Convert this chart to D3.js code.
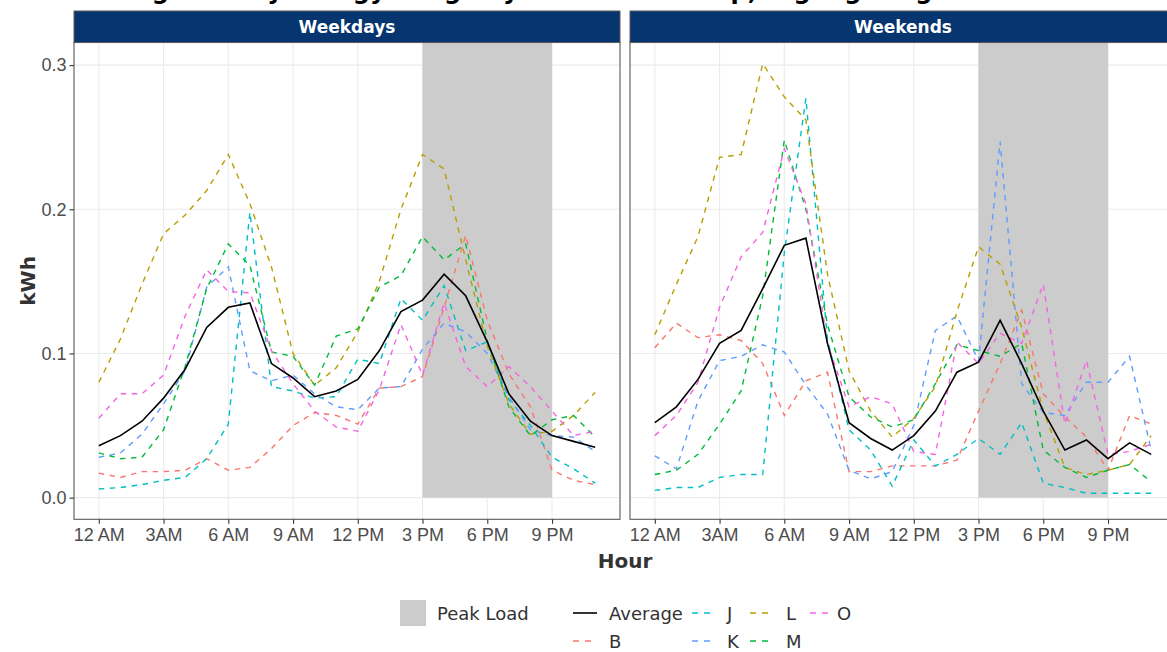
<!DOCTYPE html>
<html>
<head>
<meta charset="utf-8">
<script src="https://cdnjs.cloudflare.com/ajax/libs/d3/7.8.5/d3.min.js"></script>
<style>
  html, body { margin: 0; padding: 0; background: #fff; overflow: hidden; }
  svg { display: block; font-family: "DejaVu Sans", Verdana, sans-serif; }
</style>
</head>
<body>
<div id="chart"></div>
<script>
var hours = [0, 1, 2, 3, 4, 5, 6, 7, 8, 9, 10, 11, 12, 13, 14, 15, 16, 17, 18, 19, 20, 21, 22, 23];
var tickHours = [0, 3, 6, 9, 12, 15, 18, 21];
var tickLabels = ['12 AM', '3AM', '6 AM', '9 AM', '12 PM', '3 PM', '6 PM', '9 PM'];
var yTicks = [0, 0.1, 0.2, 0.3];
var facets = ['Weekdays', 'Weekends'];
var peakStart = 15, peakEnd = 21;
var seriesNames = ['Average', 'B', 'J', 'K', 'L', 'M', 'O'];

// weekday values (kWh) per hour
var wdAverage = [0.036, 0.043, 0.053, 0.069, 0.089, 0.118, 0.132, 0.135, 0.093, 0.083, 0.070, 0.074, 0.082, 0.102, 0.129, 0.137, 0.155, 0.140, 0.108, 0.072, 0.053, 0.043, 0.039, 0.035];
var wdB = [0.017, 0.014, 0.018, 0.018, 0.019, 0.027, 0.019, 0.021, 0.034, 0.050, 0.059, 0.057, 0.051, 0.076, 0.077, 0.084, 0.132, 0.182, 0.123, 0.086, 0.063, 0.019, 0.012, 0.009];
var wdJ = [0.006, 0.007, 0.009, 0.012, 0.014, 0.027, 0.051, 0.198, 0.077, 0.074, 0.069, 0.070, 0.096, 0.093, 0.138, 0.123, 0.147, 0.102, 0.108, 0.068, 0.050, 0.028, 0.020, 0.010];
var wdK = [0.028, 0.031, 0.044, 0.065, 0.088, 0.146, 0.160, 0.088, 0.081, 0.085, 0.072, 0.063, 0.061, 0.076, 0.077, 0.103, 0.121, 0.115, 0.100, 0.070, 0.047, 0.043, 0.042, 0.032];
var wdL = [0.080, 0.110, 0.148, 0.183, 0.196, 0.213, 0.238, 0.204, 0.160, 0.100, 0.078, 0.090, 0.115, 0.150, 0.200, 0.238, 0.228, 0.165, 0.105, 0.065, 0.044, 0.046, 0.057, 0.073];
var wdM = [0.031, 0.027, 0.028, 0.047, 0.091, 0.145, 0.176, 0.161, 0.101, 0.098, 0.078, 0.112, 0.117, 0.146, 0.154, 0.181, 0.165, 0.176, 0.109, 0.063, 0.043, 0.054, 0.057, 0.042];
var wdO = [0.055, 0.072, 0.072, 0.085, 0.126, 0.158, 0.143, 0.142, 0.102, 0.079, 0.060, 0.049, 0.046, 0.075, 0.120, 0.085, 0.135, 0.091, 0.077, 0.091, 0.077, 0.060, 0.043, 0.046];

// weekend values (kWh) per hour
var weAverage = [0.052, 0.063, 0.082, 0.107, 0.116, 0.145, 0.175, 0.180, 0.107, 0.052, 0.041, 0.033, 0.043, 0.060, 0.087, 0.094, 0.123, 0.093, 0.060, 0.033, 0.040, 0.027, 0.038, 0.030];
var weB = [0.104, 0.121, 0.111, 0.113, 0.109, 0.093, 0.057, 0.081, 0.087, 0.018, 0.018, 0.022, 0.022, 0.022, 0.026, 0.060, 0.093, 0.130, 0.072, 0.056, 0.042, 0.019, 0.057, 0.051];
var weJ = [0.005, 0.007, 0.007, 0.014, 0.016, 0.016, 0.170, 0.277, 0.110, 0.047, 0.033, 0.008, 0.040, 0.022, 0.030, 0.041, 0.030, 0.052, 0.010, 0.007, 0.003, 0.003, 0.003, 0.003];
var weK = [0.029, 0.020, 0.067, 0.095, 0.098, 0.106, 0.101, 0.078, 0.058, 0.019, 0.013, 0.018, 0.050, 0.116, 0.126, 0.095, 0.247, 0.079, 0.059, 0.057, 0.080, 0.080, 0.098, 0.033];
var weL = [0.113, 0.148, 0.181, 0.236, 0.238, 0.301, 0.278, 0.262, 0.155, 0.088, 0.060, 0.042, 0.055, 0.077, 0.129, 0.174, 0.162, 0.118, 0.060, 0.021, 0.016, 0.019, 0.023, 0.043];
var weM = [0.016, 0.019, 0.030, 0.051, 0.074, 0.140, 0.248, 0.200, 0.120, 0.070, 0.056, 0.049, 0.054, 0.079, 0.106, 0.102, 0.098, 0.107, 0.033, 0.021, 0.014, 0.019, 0.023, 0.011];
var weO = [0.043, 0.057, 0.080, 0.132, 0.167, 0.184, 0.242, 0.204, 0.107, 0.063, 0.070, 0.065, 0.032, 0.030, 0.108, 0.093, 0.114, 0.107, 0.148, 0.051, 0.095, 0.030, 0.032, 0.037];

var colors = { Average: '#000000', B: '#F8766D', J: '#00BFC4', K: '#619CFF', L: '#B79F00', M: '#00BA38', O: '#F564E3' };

var panelData = {
  Weekdays: { Average: wdAverage, B: wdB, J: wdJ, K: wdK, L: wdL, M: wdM, O: wdO },
  Weekends: { Average: weAverage, B: weB, J: weJ, K: weK, L: weL, M: weM, O: weO }
};

var W = 1167, H = 652;
var panelLeft = [74, 630], panelW = 546;
var panelTop = 42.5, panelBottom = 519.3, stripTop = 11;
var fs = 18;

var svg = d3.select('#chart').append('svg')
  .attr('width', W).attr('height', H);

// title (cut off at the top of the image, only descenders show)
svg.append('text')
  .attr('x', 74).attr('y', -1)
  .attr('font-size', 24).attr('font-weight', 'bold').attr('fill', '#000')
  .text('Average Hourly Energy Usage by Customer Group, Highlighting Peak Load Hours');

var y = d3.scaleLinear().domain([-0.01504, 0.3157]).range([panelBottom, panelTop]);

facets.forEach(function (f, i) {
  var x0 = panelLeft[i];
  var x = d3.scaleLinear().domain([-1.15, 24.15]).range([x0, x0 + panelW]);
  var g = svg.append('g');

  // grid
  g.selectAll('.vg').data(tickHours).enter().append('line')
    .attr('x1', d => x(d)).attr('x2', d => x(d))
    .attr('y1', panelTop).attr('y2', panelBottom)
    .attr('stroke', '#ebebeb').attr('stroke-width', 1.1);
  g.selectAll('.hg').data(yTicks).enter().append('line')
    .attr('x1', x0).attr('x2', x0 + panelW)
    .attr('y1', d => y(d)).attr('y2', d => y(d))
    .attr('stroke', '#ebebeb').attr('stroke-width', 1.1);

  // peak load shade
  g.append('rect')
    .attr('x', x(peakStart)).attr('width', x(peakEnd) - x(peakStart))
    .attr('y', panelTop).attr('height', y(0) - panelTop)
    .attr('fill', '#cccccc');

  // lines
  var line = d3.line().x((d, k) => x(hours[k])).y(d => y(d));
  seriesNames.slice(1).concat(['Average']).forEach(function (s) {
    g.append('path')
      .attr('d', line(panelData[f][s]))
      .attr('fill', 'none')
      .attr('stroke', colors[s])
      .attr('stroke-width', s === 'Average' ? 1.6 : 1.4)
      .attr('stroke-dasharray', s === 'Average' ? null : '5.5,5.5');
  });

  // border
  g.append('rect')
    .attr('x', x0).attr('y', panelTop).attr('width', panelW).attr('height', panelBottom - panelTop)
    .attr('fill', 'none').attr('stroke', '#5a5a5a').attr('stroke-width', 1.1);

  // strip
  g.append('rect')
    .attr('x', x0).attr('y', stripTop).attr('width', panelW).attr('height', panelTop - stripTop)
    .attr('fill', '#063570').attr('stroke', '#5a5a5a').attr('stroke-width', 1);
  g.append('text')
    .attr('x', x0 + panelW / 2).attr('y', (stripTop + panelTop) / 2 + 6)
    .attr('text-anchor', 'middle').attr('fill', '#fff')
    .attr('font-size', 17).attr('font-weight', 'bold')
    .text(f);

  // x axis
  var xa = g.append('g').attr('transform', 'translate(0,' + panelBottom + ')')
    .call(d3.axisBottom(x).tickValues(tickHours).tickFormat((d, k) => tickLabels[k]).tickSize(4.5).tickPadding(4));
  xa.select('.domain').remove();
  xa.selectAll('line').attr('stroke', '#333').attr('stroke-width', 1.1);
  xa.selectAll('text').attr('fill', '#4d4d4d').attr('font-size', fs).attr('font-family', null);

  if (i === 0) {
    var ya = g.append('g').attr('transform', 'translate(' + x0 + ',0)')
      .call(d3.axisLeft(y).tickValues(yTicks).tickFormat(d3.format('.1f')).tickSize(4.5).tickPadding(3));
    ya.select('.domain').remove();
    ya.selectAll('line').attr('stroke', '#333').attr('stroke-width', 1.1);
    ya.selectAll('text').attr('fill', '#4d4d4d').attr('font-size', fs).attr('font-family', null);
  }
});

// axis titles
svg.append('text')
  .attr('x', (panelLeft[0] + panelLeft[1] + panelW) / 2).attr('y', 568)
  .attr('text-anchor', 'middle').attr('font-size', 20).attr('font-weight', 'bold').attr('fill', '#333')
  .text('Hour');
svg.append('text')
  .attr('transform', 'translate(35,' + (panelTop + panelBottom) / 2 + ') rotate(-90)')
  .attr('text-anchor', 'middle').attr('font-size', 20).attr('font-weight', 'bold').attr('fill', '#333')
  .text('kWh');

// legend: peak load
var leg = svg.append('g');
leg.append('rect').attr('x', 400).attr('y', 600).attr('width', 26).attr('height', 26).attr('fill', '#cccccc');
leg.append('text').attr('x', 437).attr('y', 619.5).attr('font-size', fs).attr('fill', '#333').text('Peak Load');

// legend: series, column-major two rows
var legKeyX = [573, 692, 750, 810];
var legTextX = [609, 727, 786, 837];
var legRowY = [613, 641];
seriesNames.forEach(function (s, k) {
  var col = Math.floor(k / 2), row = k % 2;
  leg.append('line')
    .attr('x1', legKeyX[col]).attr('x2', legKeyX[col] + 24)
    .attr('y1', legRowY[row]).attr('y2', legRowY[row])
    .attr('stroke', colors[s]).attr('stroke-width', s === 'Average' ? 1.6 : 1.4)
    .attr('stroke-dasharray', s === 'Average' ? null : '6,6');
  leg.append('text')
    .attr('x', legTextX[col]).attr('y', legRowY[row] + 6.5)
    .attr('font-size', fs).attr('fill', '#333').text(s);
});
</script>
</body>
</html>
